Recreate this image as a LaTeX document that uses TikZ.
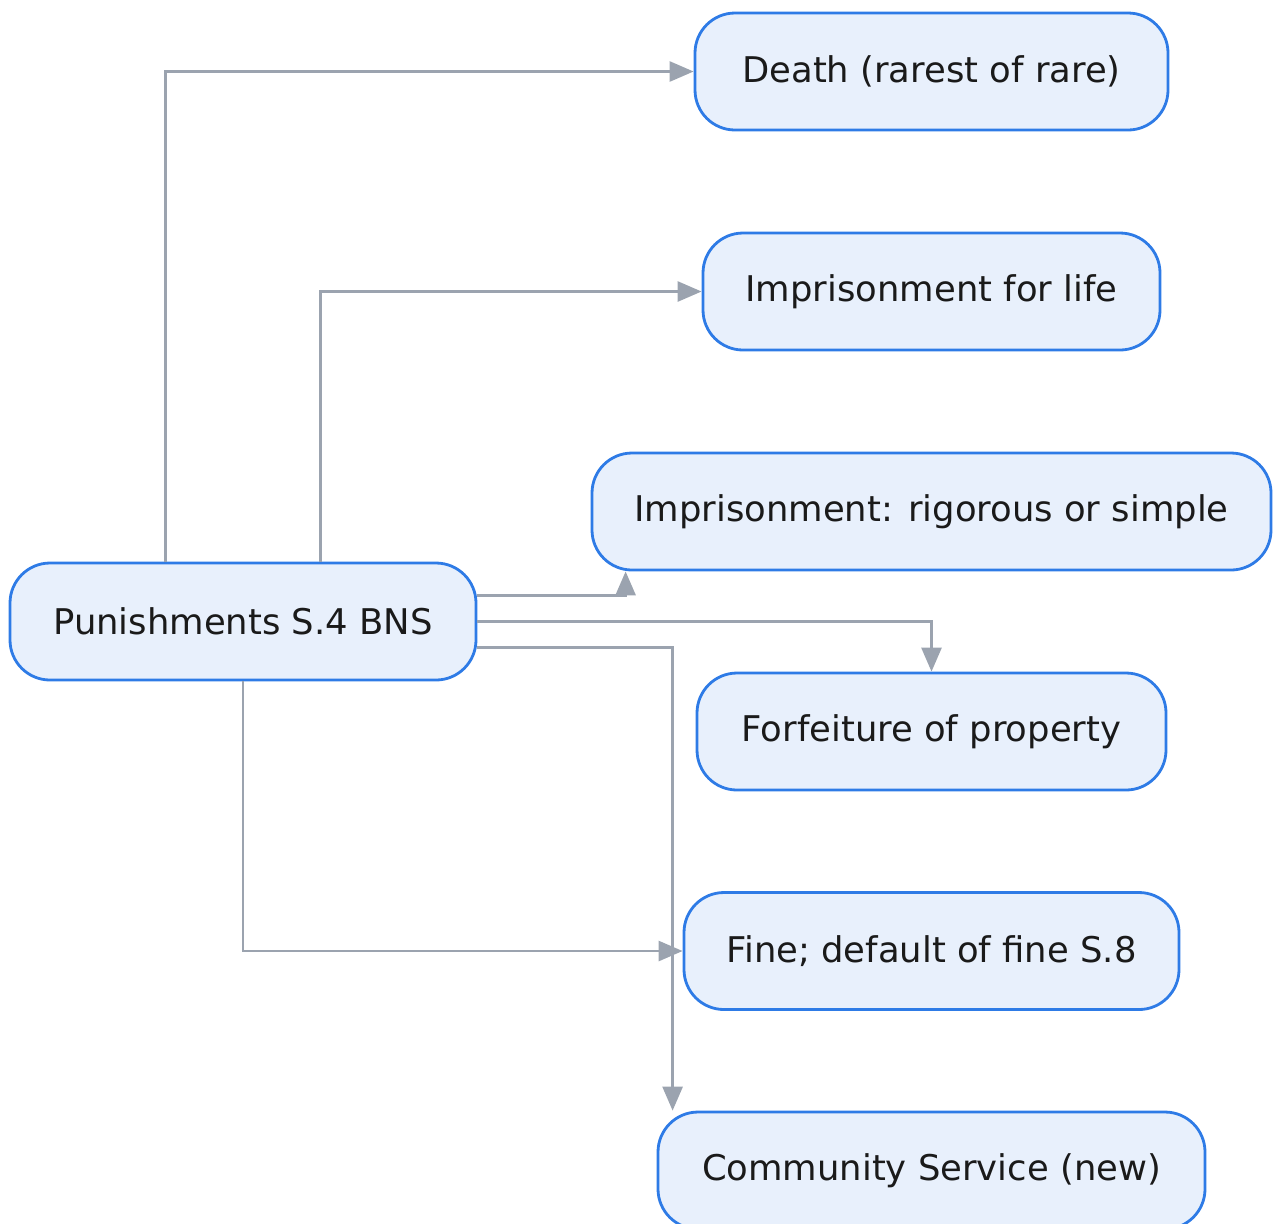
\documentclass[tikz,border=0pt]{standalone}
\usepackage{fontspec}
\setmainfont{DejaVu Sans}
\usetikzlibrary{arrows.meta}

\definecolor{boxfill}{HTML}{E8F0FC}
\definecolor{boxline}{HTML}{2E7BE6}
\definecolor{edgegray}{HTML}{9BA3AF}
\definecolor{textdark}{HTML}{1A1A1A}

\tikzset{
  punbox/.style={draw=boxline, fill=boxfill, line width=1.4pt,
    rounded corners=20pt, minimum height=58.5pt, inner sep=0pt,
    text=textdark, font=\fontsize{17.7}{21}\selectfont},
  edge/.style={draw=edgegray, line width=1.35pt,
    -{Triangle[length=12pt,width=10pt]}},
}

\begin{document}
\begin{tikzpicture}[x=0.5pt, y=-0.5pt]
  \useasboundingbox (0,0) rectangle (1273,1223);

  % source node
  \node[punbox, minimum width=233pt] (P) at (243,621.5) {Punishments S.4 BNS};

  % the kinds of punishment
  \node[punbox, minimum width=236.5pt] (D)  at (931.5,71.5)  {Death (rarest of rare)};
  \node[punbox, minimum width=228.5pt] (L)  at (931.5,291.5) {Imprisonment for life};
  \node[punbox, minimum width=339.5pt] (R)  at (931.5,511.5) {Imprisonment: rigorous or simple};
  \node[punbox, minimum width=234.5pt] (F)  at (931.5,731.5) {Forfeiture of property};
  \node[punbox, minimum width=247.5pt] (Fi) at (931.5,951)   {Fine; default of fine S.8};
  \node[punbox, minimum width=273.5pt] (C)  at (931.5,1170.5) {Community Service (new)};

  % connectors
  \draw[edge] ([xshift=78.5pt]P.north west) |- (D.west);
  \draw[edge] ([xshift=156pt]P.north west) |- (L.west);
  \draw[edge] ([yshift=13pt]P.east) -| ([xshift=17.5pt]R.south west);
  \draw[edge] (P.east) -| (F.north);
  \draw[edge] ([yshift=-13pt]P.east) -| ([xshift=8pt]C.north west);
  \draw[edge] (P.south) |- (Fi.west);
\end{tikzpicture}
\end{document}
